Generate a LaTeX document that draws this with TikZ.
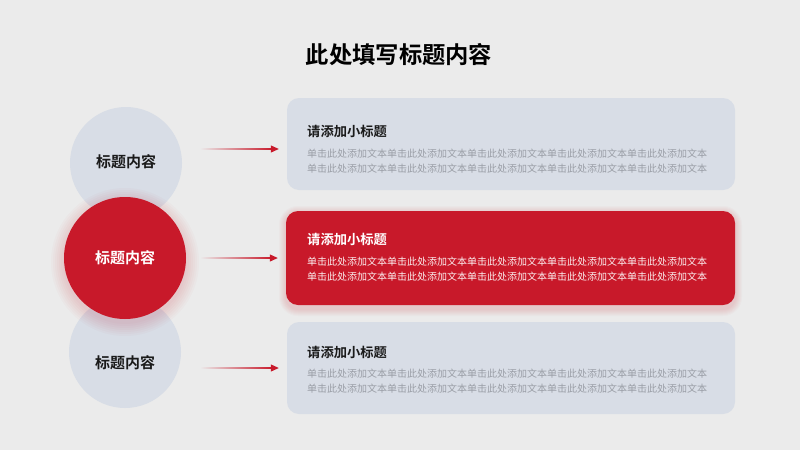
\documentclass[tikz,border=0pt]{standalone}
\usepackage{fontspec}
\setmainfont{Noto Sans CJK SC}
\newfontfamily\cjkbold{Noto Sans CJK SC Bold}
\usetikzlibrary{arrows.meta,calc}
\definecolor{bgc}{HTML}{EBEBEB}
\definecolor{greyfill}{HTML}{D8DDE6}
\definecolor{mainred}{HTML}{C8192A}
\definecolor{bodygrey}{HTML}{9A9EA6}
\definecolor{inkc}{HTML}{1A1A1A}
\tikzset{
  greycirc/.style={circle, fill=greyfill, minimum size=112pt, inner sep=0pt},
  redcirc/.style={circle, fill=mainred, minimum size=122pt, inner sep=0pt},
  glow/.style={fill=mainred, fill opacity=0.022},
  circtext/.style={font=\cjkbold\fontsize{15}{18}\selectfont},
  greybox/.style={rounded corners=12pt, fill=greyfill, minimum width=448pt, minimum height=92pt, inner sep=0pt},
  redbox/.style={rounded corners=12pt, fill=mainred, minimum width=449pt, minimum height=94pt, inner sep=0pt},
  subtitle/.style={anchor=west, inner sep=0pt, font=\cjkbold\fontsize{13.3}{16}\selectfont},
  bodytext/.style={anchor=north west, inner sep=0pt, align=left, font=\fontsize{10}{15}\selectfont},
  linkarrow/.style={draw=mainred, line width=1pt, -{Triangle[length=8pt,width=7pt]}, shorten >=8pt},
  shaft/.style={left color=bgc, right color=mainred},
}
\begin{document}
\begin{tikzpicture}[x=1pt,y=-1pt]
\fill[bgc] (0,0) rectangle (800,450);
\useasboundingbox (0,0) rectangle (800,450);

\node[font=\cjkbold\fontsize{23.3}{26}\selectfont, text=black] (title) at (399,55) {此处填写标题内容};

% circles
\node[greycirc] (c1) at (126,163) {};
\node[greycirc] (c3) at (125,352) {};
\foreach \r in {62,64,66,68,70,72,74}{
  \fill[glow] (125,262) circle[radius=\r];
}
\node[redcirc] (c2) at (125,258) {};
\node[circtext, text=inkc] at (126,162) {标题内容};
\node[circtext, text=white] at (125,258) {标题内容};
\node[circtext, text=inkc] at (125,363) {标题内容};

% boxes
\node[greybox] (b1) at (511,144) {};
\foreach \d in {1,2,3,4,5,6,7}{
  \fill[glow, rounded corners=12pt+\d pt] (286-\d,213-\d) rectangle (735+\d,309+\d);
}
\node[redbox] (b2) at (510.5,258) {};
\node[greybox] (b3) at (511,368) {};

% texts
\node[subtitle, text=inkc] (s1) at (307,131) {请添加小标题};
\node[bodytext, text=bodygrey] (t1) at (307,149) {单击此处添加文本单击此处添加文本单击此处添加文本单击此处添加文本单击此处添加文本\\单击此处添加文本单击此处添加文本单击此处添加文本单击此处添加文本单击此处添加文本};
\node[subtitle, text=white] (s2) at (307,239) {请添加小标题};
\node[bodytext, text=white!92!mainred] (t2) at (307,257) {单击此处添加文本单击此处添加文本单击此处添加文本单击此处添加文本单击此处添加文本\\单击此处添加文本单击此处添加文本单击此处添加文本单击此处添加文本单击此处添加文本};
\node[subtitle, text=inkc] (s3) at (307,352) {请添加小标题};
\node[bodytext, text=bodygrey] (t3) at (307,369) {单击此处添加文本单击此处添加文本单击此处添加文本单击此处添加文本单击此处添加文本\\单击此处添加文本单击此处添加文本单击此处添加文本单击此处添加文本单击此处添加文本};

% arrows
\coordinate (a1) at (200,149);
\coordinate (a2) at (200,258);
\coordinate (a3) at (200,368);
\foreach \i in {1,2,3}{
  \shade[shaft] ($(a\i)+(0,-0.55)$) rectangle ($(a\i -| b\i.west)+(-14,0.55)$);
  \draw[linkarrow] ($(a\i -| b\i.west)+(-15,0)$) -- (a\i -| b\i.west);
}
\end{tikzpicture}
\end{document}
